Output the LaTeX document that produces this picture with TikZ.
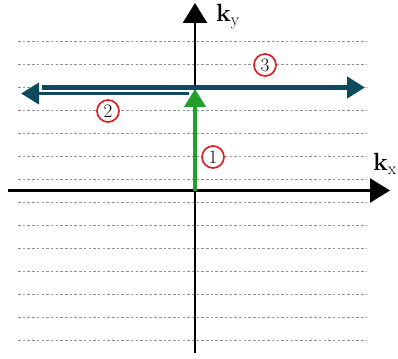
\documentclass[tikz,border=0pt]{standalone}
\usetikzlibrary{arrows.meta}
\definecolor{teal}{HTML}{0E4A5E}
\definecolor{vgreen}{HTML}{22A02A}
\definecolor{markred}{HTML}{D42424}
\tikzset{
  gridline/.style={draw=gray!85, line width=1pt, dash pattern=on 2.5pt off 2.2pt},
  axis/.style={draw=black, line width=2.6pt, -{Triangle[length=20pt,width=24pt]}},
  tealarrow/.style={draw=teal, line width=4.4pt, -{Triangle[length=18pt,width=21pt]}},
  greenarrow/.style={draw=vgreen, line width=4pt, -{Triangle[length=18pt,width=21pt]}},
  marker/.style={circle, draw=markred, line width=1.7pt, fill=white,
    minimum size=22pt, inner sep=0pt, font=\fontsize{19}{19}\selectfont},
  axlabel/.style={inner sep=0pt, anchor=base west, font=\fontsize{27}{30}\selectfont}
}
\begin{document}
\begin{tikzpicture}[x=1pt, y=-1pt]
  \useasboundingbox (0,0) rectangle (398,358);

  % horizontal guide lines
  \foreach \i in {0,...,13} {
    \draw[gridline] (18, 41.7+22.95*\i) -- (366, 41.7+22.95*\i);
  }

  % axes
  \coordinate (origin) at (195,190.5);
  \coordinate (xstart) at (8,190.5);
  \coordinate (xend) at (390,190.5);
  \coordinate (ystart) at (195,353);
  \coordinate (yend) at (195,3);
  \draw[axis] (xstart) -- (xend);
  \draw[axis] (ystart) -- (yend);
  \node[axlabel] (ky) at (216,22) {$\mathbf{k}_{\mathrm{y}}$};
  \node[axlabel] (kx) at (373,170.5) {$\mathbf{k}_{\mathrm{x}}$};

  % path segments
  \coordinate (threestart) at (42,87.5);
  \coordinate (threeend) at (365,87.5);
  \coordinate (twostart) at (189,93.5);
  \coordinate (twoend) at (21,93.5);
  \coordinate (oneend) at (195,89);
  \draw[tealarrow] (threestart) -- (threeend);
  \draw[tealarrow, line width=3.8pt] (twostart) -- (twoend);
  \draw[greenarrow] (origin) -- (oneend);

  % step markers
  \node[marker] (m1) at (213,157) {1};
  \node[marker] (m2) at (108,111) {2};
  \node[marker] (m3) at (265,65) {3};
\end{tikzpicture}
\end{document}
